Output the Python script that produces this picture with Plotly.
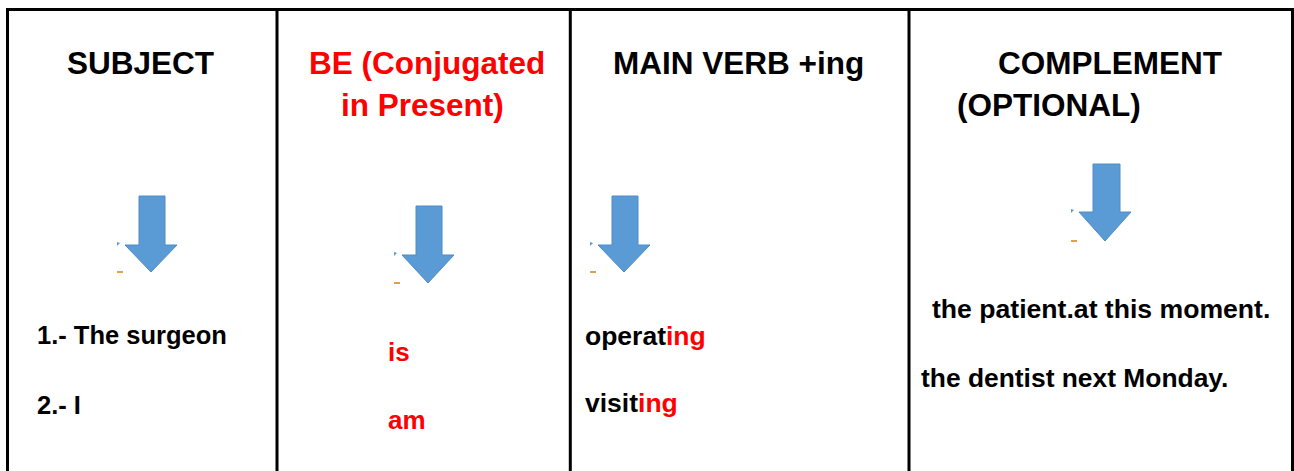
import plotly.graph_objects as go

W, H = 1294, 471

# ---- content ----
header_texts = ["SUBJECT", "BE (Conjugated", "in Present)", "MAIN VERB +ing", "COMPLEMENT", "(OPTIONAL)"]
header_colors = ["#000000", "#FF0000", "#FF0000", "#000000", "#000000", "#000000"]
header_x = [67, 309, 341, 613, 998, 957]
header_y = [63, 63, 105, 63, 63, 105]

body_texts = [
    "1.- The surgeon",
    "2.- I",
    "is",
    "am",
    "operat<span style='color:#FF0000'>ing</span>",
    "visit<span style='color:#FF0000'>ing</span>",
    "the patient.at this moment.",
    "the dentist next Monday.",
]
body_colors = ["#000000", "#000000", "#FF0000", "#FF0000", "#000000", "#000000", "#000000", "#000000"]
body_sizes = [25.5, 25.5, 26, 26, 26.5, 26.5, 26.6, 26.4]
body_x = [37, 37, 388, 388, 585, 585, 932, 921]
body_y = [335, 405, 352, 420, 336, 403, 309, 378]

# arrows: (shaft_left, shaft_right, top, head_left, head_right, head_top, tip_y)
arrows = [
    (139, 165, 196, 125, 177, 245, 272),
    (416, 442, 206, 402, 454, 255, 283),
    (612, 638, 196, 598, 650, 245, 272),
    (1093, 1120, 164, 1079, 1131, 212, 241),
]

col_lines_x = [7.5, 277, 570.3, 909, 1292.5]
top_line_y = 9.5

fig = go.Figure()
fig.add_trace(go.Scatter(x=[0, W], y=[0, H], mode="markers", marker=dict(opacity=0), hoverinfo="skip", showlegend=False))

shapes = []
# table borders
shapes.append(dict(type="line", x0=col_lines_x[0] - 1.5, x1=col_lines_x[-1] + 1.5, y0=top_line_y, y1=top_line_y,
                   line=dict(color="#000000", width=3), xref="x", yref="y"))
for cx in col_lines_x:
    shapes.append(dict(type="line", x0=cx, x1=cx, y0=top_line_y, y1=H + 5,
                       line=dict(color="#000000", width=3), xref="x", yref="y"))

for (sl, sr, top, hl, hr, ht, tip) in arrows:
    cx = (hl + hr) / 2
    path = (f"M {sl},{top} L {sr},{top} L {sr},{ht} L {hr},{ht} L {cx},{tip} "
            f"L {hl},{ht} L {sl},{ht} Z")
    shapes.append(dict(type="path", path=path, fillcolor="#5B9BD5",
                       line=dict(color="#4F8CC6", width=1), xref="x", yref="y"))
    # small artifacts
    shapes.append(dict(type="path", path=f"M {hl-8},{ht-3} L {hl-5},{ht-2} L {hl-8},{ht+1} Z",
                       fillcolor="#5B9BD5", line=dict(width=0), xref="x", yref="y"))
    shapes.append(dict(type="rect", x0=hl - 8, x1=hl - 2, y0=tip - 1, y1=tip + 1,
                       fillcolor="#E0A050", line=dict(width=0), xref="x", yref="y"))

annotations = []
for t, c, x, y in zip(header_texts, header_colors, header_x, header_y):
    annotations.append(dict(text=t, x=x, y=y, xref="x", yref="y", xanchor="left", yanchor="middle",
                            showarrow=False, borderpad=0, borderwidth=0,
                            font=dict(family="Liberation Sans, Arial", size=31.5, color=c, weight="bold")))
for t, c, s, x, y in zip(body_texts, body_colors, body_sizes, body_x, body_y):
    annotations.append(dict(text=t, x=x, y=y, xref="x", yref="y", xanchor="left", yanchor="middle",
                            showarrow=False, borderpad=0, borderwidth=0,
                            font=dict(family="Liberation Sans, Arial", size=s, color=c, weight="bold")))

fig.update_layout(
    width=W, height=H,
    margin=dict(l=0, r=0, t=0, b=0),
    paper_bgcolor="#FFFFFF", plot_bgcolor="#FFFFFF",
    xaxis=dict(range=[0, W], visible=False, fixedrange=True),
    yaxis=dict(range=[H, 0], visible=False, fixedrange=True),
    shapes=shapes, annotations=annotations, showlegend=False,
)
fig.write_html("out.html", config={"displayModeBar": False},
               post_script="document.body.style.margin='0';document.body.style.overflow='hidden';")
